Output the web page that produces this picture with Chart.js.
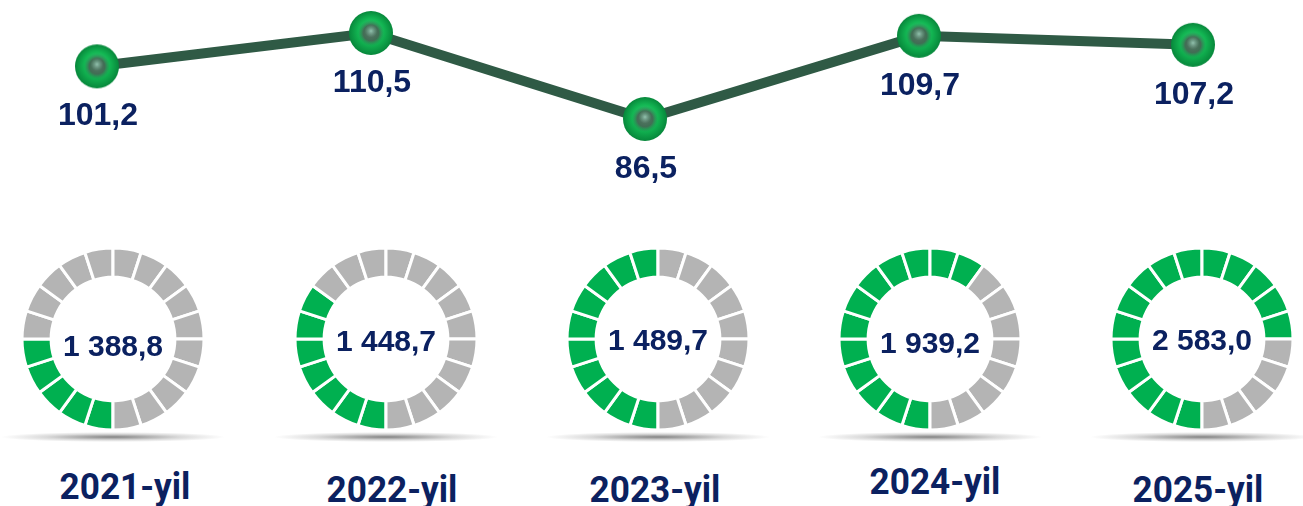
<!DOCTYPE html>
<html>
<head>
<meta charset="utf-8">
<script src="https://cdn.jsdelivr.net/npm/chart.js@4.4.1/dist/chart.umd.min.js"></script>
<style>
  html, body { margin: 0; padding: 0; background: #ffffff; }
  body { width: 1303px; height: 506px; position: relative; overflow: hidden; }
  #lineWrap { position: absolute; left: 0; top: 0; width: 1303px; height: 220px; }
  .ring { position: absolute; width: 200px; height: 200px; }
  .shadow { position: absolute; height: 10px; width: 224px;
    background: radial-gradient(ellipse closest-side, rgba(90,90,90,0.75), rgba(150,150,150,0.35) 60%, rgba(255,255,255,0) 100%); }
  .year { position: absolute; width: 200px; text-align: center;
    font-family: Roboto, "Liberation Sans", sans-serif; font-weight: 700; font-size: 37px;
    color: #0b2160; line-height: 1; transform: scaleX(0.95); transform-origin: center; }
</style>
</head>
<body>
<div id="lineWrap"><canvas id="lineChart" width="1303" height="220"></canvas></div>
<div id="rings"></div>
<script>
// ---- data ----
const years = ['2021-yil', '2022-yil', '2023-yil', '2024-yil', '2025-yil'];
const growth = [101.2, 110.5, 86.5, 109.7, 107.2];
const volumes = [1388.8, 1448.7, 1489.7, 1939.2, 2583.0];
const filledSegments = [5, 7, 10, 12, 15];
const totalSegments = 20;

// ---- layout (not data) ----
const ringCenterX = [113, 386, 658, 930, 1202];
const ringCenterY = 339;
const ringTextDy = [9, 4, 3, 6, 3];
const yearCenterX = [125, 392, 655, 935, 1198];
const yearCenterY = [486, 489, 489, 481, 489];

const NAVY = '#0b2160';
const GREEN = '#00b050';
const GRAY = '#b4b4b4';

function fmtGrowth(v) { return v.toFixed(1).replace('.', ','); }
function fmtVolume(v) {
  const parts = v.toFixed(1).split('.');
  return parts[0].replace(/\B(?=(\d{3})+(?!\d))/g, ' ') + ',' + parts[1];
}

// sphere marker
function makeSphere() {
  const s = document.createElement('canvas');
  s.width = 46; s.height = 46;
  const c = s.getContext('2d');
  let g = c.createRadialGradient(23, 19, 2, 23, 23, 22);
  g.addColorStop(0, '#35d073');
  g.addColorStop(0.55, '#12b552');
  g.addColorStop(1, '#07873b');
  c.fillStyle = g;
  c.beginPath(); c.arc(23, 23, 22, 0, Math.PI * 2); c.fill();
  g = c.createRadialGradient(23, 23, 0, 23, 23, 13);
  g.addColorStop(0, 'rgba(88,118,102,1)');
  g.addColorStop(0.6, 'rgba(70,100,84,0.9)');
  g.addColorStop(1, 'rgba(40,130,80,0)');
  c.fillStyle = g;
  c.beginPath(); c.arc(23, 23, 13, 0, Math.PI * 2); c.fill();
  g = c.createRadialGradient(23, 21, 0, 23, 21, 6.5);
  g.addColorStop(0, 'rgba(150,198,178,0.95)');
  g.addColorStop(1, 'rgba(110,165,140,0)');
  c.fillStyle = g;
  c.beginPath(); c.arc(23, 21, 6.5, 0, Math.PI * 2); c.fill();
  return s;
}

const lineLabels = {
  id: 'lineLabels',
  afterDatasetsDraw(chart) {
    const ctx = chart.ctx;
    const meta = chart.getDatasetMeta(0);
    ctx.save();
    ctx.font = 'bold 32px "Liberation Sans", Arial, sans-serif';
    ctx.fillStyle = NAVY;
    ctx.textAlign = 'center';
    ctx.textBaseline = 'middle';
    meta.data.forEach((pt, i) => {
      ctx.fillText(fmtGrowth(growth[i]), pt.x + 1, pt.y + 50);
    });
    ctx.restore();
  }
};

new Chart(document.getElementById('lineChart'), {
  type: 'line',
  data: {
    labels: years,
    datasets: [{
      data: growth,
      borderColor: '#2f5a45',
      borderWidth: 10,
      tension: 0,
      pointStyle: makeSphere(),
      pointRadius: 22,
      clip: false,
      fill: false
    }]
  },
  options: {
    responsive: false,
    animation: false,
    events: [],
    layout: { autoPadding: false, padding: { left: 97, right: 110, top: 0, bottom: 0 } },
    plugins: { legend: { display: false }, tooltip: { enabled: false } },
    scales: {
      x: { type: 'category', display: false, offset: false },
      y: { display: false, min: 58.31, max: 119.71 }
    }
  },
  plugins: [lineLabels]
});

const ringsEl = document.getElementById('rings');
years.forEach((yr, i) => {
  const sh = document.createElement('div');
  sh.className = 'shadow';
  sh.style.left = (ringCenterX[i] - 112) + 'px';
  sh.style.top = '432px';
  ringsEl.appendChild(sh);

  const wrap = document.createElement('div');
  wrap.className = 'ring';
  wrap.style.left = (ringCenterX[i] - 100) + 'px';
  wrap.style.top = (ringCenterY - 100) + 'px';
  const cv = document.createElement('canvas');
  cv.width = 200; cv.height = 200;
  wrap.appendChild(cv);
  ringsEl.appendChild(wrap);

  const segs = [];
  const colors = [];
  for (let k = 0; k < totalSegments; k++) {
    segs.push(1);
    colors.push(k < filledSegments[i] ? GREEN : GRAY);
  }
  const centerText = {
    id: 'centerText' + i,
    afterDraw(chart) {
      const ctx = chart.ctx;
      const a = chart.getDatasetMeta(0).data[0];
      ctx.save();
      ctx.font = 'bold 30px "Liberation Sans", Arial, sans-serif';
      ctx.fillStyle = NAVY;
      ctx.textAlign = 'center';
      ctx.textBaseline = 'middle';
      ctx.fillText(fmtVolume(volumes[i]), a.x, a.y + ringTextDy[i]);
      ctx.restore();
    }
  };
  new Chart(cv, {
    type: 'doughnut',
    data: { labels: segs.map((_, k) => String(k)), datasets: [{
      data: segs, backgroundColor: colors, borderColor: '#ffffff', borderWidth: 3
    }] },
    options: {
      responsive: false, animation: false, events: [],
      rotation: 180, radius: 91, cutout: 67,
      plugins: { legend: { display: false }, tooltip: { enabled: false } }
    },
    plugins: [centerText]
  });

  const y = document.createElement('div');
  y.className = 'year';
  y.textContent = yr;
  y.style.left = (yearCenterX[i] - 100) + 'px';
  y.style.top = (yearCenterY[i] - 18) + 'px';
  ringsEl.appendChild(y);
});
</script>
</body>
</html>
